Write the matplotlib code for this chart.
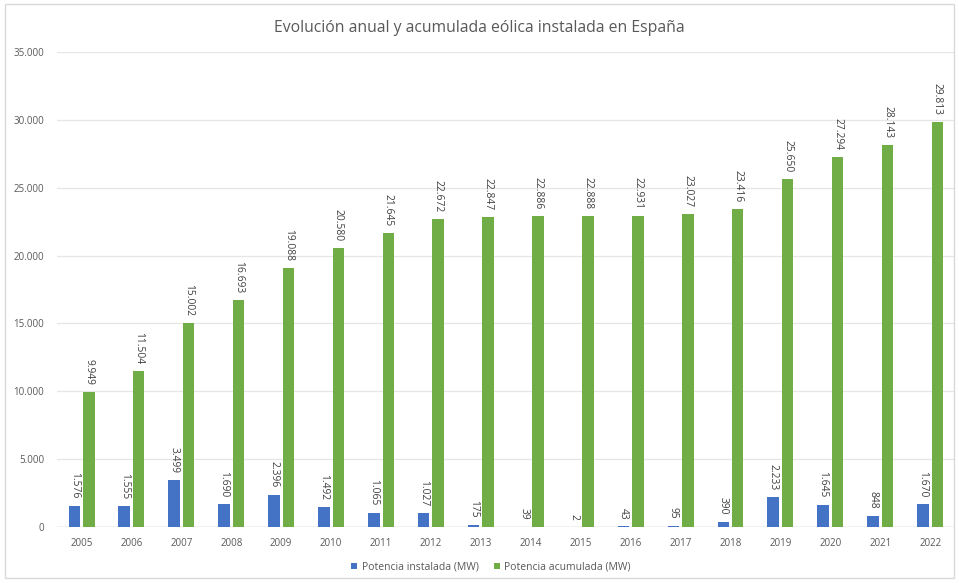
import matplotlib
matplotlib.use("Agg")
import matplotlib.pyplot as plt
import numpy as np
from matplotlib.patches import Rectangle

years = ["2005", "2006", "2007", "2008", "2009", "2010", "2011", "2012", "2013",
         "2014", "2015", "2016", "2017", "2018", "2019", "2020", "2021", "2022"]
instalada = [1576, 1555, 3499, 1690, 2396, 1492, 1065, 1027, 175,
             39, 2, 43, 95, 390, 2233, 1645, 848, 1670]
acumulada = [9949, 11504, 15002, 16693, 19088, 20580, 21645, 22672, 22847,
             22886, 22888, 22931, 23027, 23416, 25650, 27294, 28143, 29813]
yticks = [0, 5000, 10000, 15000, 20000, 25000, 30000, 35000]

BLUE = "#4472C4"
GREEN = "#70AD47"
TEXT = "#595959"

plt.rcParams["font.family"] = ["Open Sans", "DejaVu Sans"]

def fmt(v):
    return f"{v:,}".replace(",", ".")

fig = plt.figure(figsize=(9.59, 5.83), dpi=100)
fig.patches.append(Rectangle((0.005, 0.008), 0.99, 0.985, transform=fig.transFigure,
                             fill=False, edgecolor="#D9D9D9", linewidth=1.0))
ax = fig.add_axes([0.059, 0.096, 0.937, 0.815])

x = np.arange(len(years))
w = 0.23
b1 = ax.bar(x - 0.145, instalada, width=w, color=BLUE, label="Potencia instalada (MW)", zorder=3)
b2 = ax.bar(x + 0.145, acumulada, width=w, color=GREEN, label="Potencia acumulada (MW)", zorder=3)

for bars, vals in ((b1, instalada), (b2, acumulada)):
    for r, v in zip(bars, vals):
        ax.annotate(fmt(v), (r.get_x() + r.get_width() / 2, v),
                    xytext=(0, 5), textcoords="offset points",
                    rotation=270, ha="center", va="bottom",
                    fontsize=7.4, color="#404040")

ax.set_xlim(-0.5, len(years) - 0.5)
ax.set_ylim(0, 35000)
ax.set_yticks(yticks)
ax.set_yticklabels([fmt(t) for t in yticks])
ax.set_xticks(x)
ax.set_xticklabels(years)
ax.tick_params(axis="both", length=0, labelsize=7, colors=TEXT)
ax.tick_params(axis="x", pad=8)
ax.tick_params(axis="y", pad=9)

ax.grid(axis="y", color="#E6E6E6", linewidth=0.9, zorder=0)
for s in ax.spines.values():
    s.set_visible(False)
ax.axhline(0, color="#D0D0D0", linewidth=1.0, zorder=2)

fig.text(0.5, 0.952, "Evolución anual y acumulada eólica instalada en España",
         ha="center", va="center", fontsize=11.3, color=TEXT)

fig.legend(handles=[b1, b2], loc="center", bbox_to_anchor=(0.512, 0.027), ncol=2,
           frameon=False, fontsize=7.5, handlelength=0.6, handleheight=0.6,
           handletextpad=0.4, columnspacing=1.5, labelcolor=TEXT)

fig.savefig("out.png", dpi=100, facecolor="white")
